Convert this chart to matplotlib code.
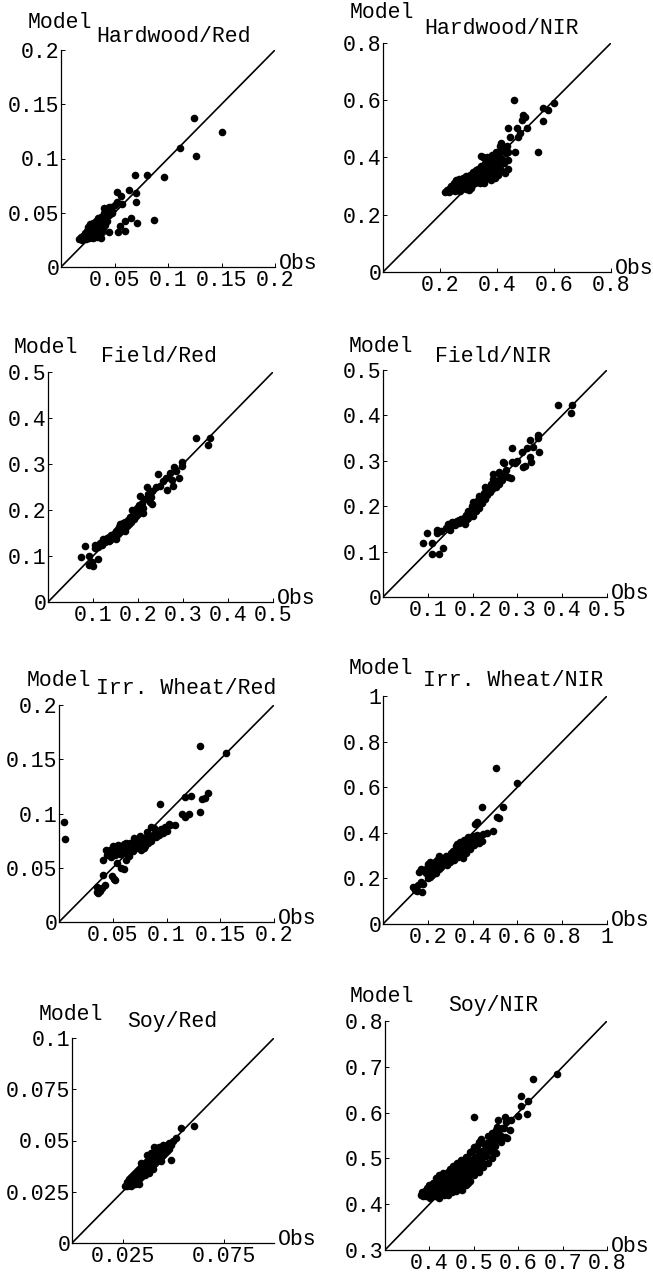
import matplotlib
matplotlib.use("Agg")
import matplotlib.pyplot as plt

# ---------------------------------------------------------------- data
# (observed, modelled) reflectance pairs for each cover type and band

hardwood_red = [
    (0.124, 0.137), (0.150, 0.124), (0.126, 0.102), (0.111, 0.110), (0.096, 0.083),
    (0.069, 0.085), (0.080, 0.085), (0.0865, 0.043), (0.071, 0.041), (0.065, 0.045),
    (0.060, 0.042), (0.060, 0.033), (0.0535, 0.032), (0.055, 0.038), (0.070, 0.060),
    (0.070, 0.068), (0.0635, 0.071), (0.052, 0.069), (0.0557, 0.065), (0.0525, 0.060),
    (0.0446, 0.0556), (0.040, 0.054), (0.043, 0.0495), (0.037, 0.046), (0.0446, 0.0326),
    (0.037, 0.0264), (0.057, 0.058), (0.048, 0.052), (0.050, 0.057), (0.046, 0.050),
    (0.017, 0.026), (0.019, 0.028), (0.020, 0.025), (0.021, 0.029), (0.022, 0.027),
    (0.022, 0.031), (0.023, 0.026), (0.024, 0.030), (0.024, 0.033), (0.025, 0.028),
    (0.025, 0.035), (0.026, 0.031), (0.026, 0.027), (0.027, 0.033), (0.027, 0.037),
    (0.028, 0.029), (0.028, 0.034), (0.029, 0.032), (0.029, 0.038), (0.030, 0.030),
    (0.030, 0.035), (0.030, 0.041), (0.031, 0.033), (0.031, 0.039), (0.032, 0.036),
    (0.032, 0.029), (0.033, 0.034), (0.033, 0.042), (0.034, 0.037), (0.034, 0.031),
    (0.035, 0.040), (0.035, 0.045), (0.036, 0.035), (0.036, 0.043), (0.037, 0.038),
    (0.038, 0.041), (0.038, 0.046), (0.039, 0.036), (0.040, 0.044), (0.040, 0.050),
    (0.041, 0.039), (0.042, 0.047), (0.043, 0.042), (0.044, 0.052), (0.045, 0.048),
    (0.047, 0.055), (0.048, 0.050), (0.034, 0.028), (0.027, 0.040), (0.025, 0.037),
    (0.030, 0.027), (0.038, 0.032),
]

hardwood_nir = [
    (0.461, 0.601), (0.601, 0.590), (0.562, 0.572), (0.580, 0.566), (0.562, 0.529),
    (0.490, 0.549), (0.498, 0.543), (0.487, 0.532), (0.545, 0.420), (0.504, 0.502),
    (0.469, 0.502), (0.437, 0.502), (0.481, 0.485), (0.473, 0.473), (0.445, 0.470),
    (0.414, 0.452), (0.463, 0.420), (0.440, 0.420), (0.410, 0.420),
    (0.218, 0.281), (0.225, 0.285), (0.232, 0.280), (0.235, 0.292), (0.240, 0.300),
    (0.242, 0.285), (0.248, 0.310), (0.250, 0.295), (0.252, 0.282), (0.255, 0.320),
    (0.258, 0.300), (0.260, 0.288), (0.262, 0.310), (0.265, 0.295), (0.268, 0.325),
    (0.270, 0.305), (0.272, 0.290), (0.275, 0.315), (0.278, 0.298), (0.280, 0.330),
    (0.282, 0.310), (0.285, 0.292), (0.288, 0.320), (0.290, 0.305), (0.292, 0.335),
    (0.295, 0.315), (0.298, 0.300), (0.300, 0.325), (0.302, 0.285), (0.305, 0.340),
    (0.308, 0.318), (0.310, 0.330), (0.312, 0.305), (0.315, 0.350), (0.318, 0.325),
    (0.320, 0.340), (0.322, 0.312), (0.325, 0.355), (0.328, 0.335), (0.330, 0.320),
    (0.332, 0.345), (0.335, 0.360), (0.338, 0.330), (0.340, 0.310), (0.342, 0.350),
    (0.345, 0.370), (0.348, 0.335), (0.350, 0.400), (0.352, 0.355), (0.355, 0.320),
    (0.358, 0.380), (0.360, 0.340), (0.362, 0.365), (0.365, 0.400), (0.368, 0.330),
    (0.370, 0.375), (0.372, 0.350), (0.375, 0.390), (0.378, 0.320), (0.380, 0.360),
    (0.382, 0.410), (0.385, 0.345), (0.388, 0.380), (0.390, 0.395), (0.392, 0.330),
    (0.395, 0.420), (0.398, 0.370), (0.400, 0.390), (0.405, 0.340), (0.408, 0.410),
    (0.410, 0.375), (0.415, 0.355), (0.418, 0.395), (0.420, 0.430), (0.425, 0.380),
    (0.428, 0.345), (0.432, 0.415), (0.435, 0.440), (0.438, 0.390), (0.440, 0.360),
    (0.345, 0.405), (0.355, 0.310), (0.290, 0.290), (0.270, 0.282), (0.255, 0.305),
    (0.310, 0.295), (0.395, 0.350), (0.412, 0.440),
]

field_red = [
    (0.329, 0.356), (0.360, 0.356), (0.356, 0.341), (0.297, 0.305), (0.297, 0.295),
    (0.280, 0.294), (0.271, 0.280), (0.245, 0.278), (0.290, 0.269), (0.275, 0.265),
    (0.278, 0.252), (0.264, 0.243), (0.249, 0.252), (0.219, 0.251), (0.231, 0.241),
    (0.227, 0.218), (0.230, 0.214), (0.204, 0.231), (0.210, 0.193), (0.240, 0.250),
    (0.255, 0.262), (0.285, 0.285), (0.262, 0.270), (0.222, 0.235), (0.215, 0.225),
    (0.228, 0.228),
    (0.073, 0.098), (0.082, 0.122), (0.090, 0.080), (0.101, 0.078), (0.112, 0.093),
    (0.090, 0.100), (0.104, 0.124), (0.104, 0.117), (0.123, 0.138), (0.138, 0.135),
    (0.097, 0.088), (0.110, 0.120), (0.115, 0.128),
    (0.130, 0.140), (0.135, 0.132), (0.140, 0.145), (0.145, 0.140), (0.148, 0.150),
    (0.150, 0.138), (0.152, 0.155), (0.155, 0.148), (0.158, 0.162), (0.160, 0.152),
    (0.162, 0.165), (0.165, 0.158), (0.168, 0.170), (0.170, 0.160), (0.172, 0.175),
    (0.175, 0.165), (0.178, 0.178), (0.180, 0.170), (0.182, 0.185), (0.185, 0.175),
    (0.188, 0.190), (0.190, 0.180), (0.192, 0.198), (0.195, 0.188), (0.198, 0.205),
    (0.200, 0.192), (0.202, 0.210), (0.205, 0.200), (0.208, 0.215), (0.212, 0.205),
    (0.186, 0.200), (0.176, 0.168), (0.166, 0.172), (0.156, 0.158), (0.146, 0.148),
    (0.136, 0.142), (0.126, 0.130), (0.120, 0.125), (0.194, 0.195), (0.160, 0.170),
    (0.170, 0.155),
]

field_nir = [
    (0.390, 0.423), (0.421, 0.423), (0.420, 0.405), (0.347, 0.357), (0.347, 0.350),
    (0.328, 0.346), (0.349, 0.320), (0.321, 0.328), (0.328, 0.309), (0.330, 0.298),
    (0.313, 0.287), (0.318, 0.288), (0.287, 0.328), (0.267, 0.298), (0.287, 0.297),
    (0.246, 0.272), (0.270, 0.295), (0.275, 0.280), (0.280, 0.265), (0.285, 0.262),
    (0.262, 0.268), (0.255, 0.255), (0.258, 0.275), (0.300, 0.300), (0.310, 0.320),
    (0.295, 0.295), (0.335, 0.330),
    (0.090, 0.118), (0.098, 0.142), (0.110, 0.120), (0.109, 0.095), (0.124, 0.095),
    (0.135, 0.109), (0.121, 0.142), (0.121, 0.148), (0.130, 0.145),
    (0.140, 0.152), (0.145, 0.160), (0.150, 0.155), (0.155, 0.165), (0.160, 0.158),
    (0.165, 0.168), (0.170, 0.162), (0.175, 0.172), (0.178, 0.165), (0.182, 0.160),
    (0.185, 0.180), (0.188, 0.172), (0.190, 0.190), (0.195, 0.185), (0.198, 0.200),
    (0.200, 0.178), (0.203, 0.195), (0.205, 0.205), (0.208, 0.190), (0.210, 0.212),
    (0.212, 0.200), (0.215, 0.195), (0.218, 0.215), (0.220, 0.208), (0.222, 0.222),
    (0.225, 0.230), (0.228, 0.215), (0.230, 0.235), (0.233, 0.225), (0.235, 0.240),
    (0.238, 0.232), (0.240, 0.250), (0.243, 0.238), (0.245, 0.260), (0.248, 0.245),
    (0.250, 0.255), (0.252, 0.242), (0.200, 0.210), (0.190, 0.175), (0.170, 0.170),
    (0.160, 0.166), (0.150, 0.148), (0.215, 0.222), (0.228, 0.242), (0.265, 0.258),
    (0.260, 0.250), (0.272, 0.268),
]

wheat_red = [
    (0.005, 0.092), (0.0056, 0.0765), (0.131, 0.162), (0.155, 0.156), (0.139, 0.119),
    (0.136, 0.114), (0.133, 0.113), (0.123, 0.116), (0.117, 0.115), (0.131, 0.101),
    (0.121, 0.100), (0.117, 0.097), (0.114, 0.100), (0.094, 0.109), (0.108, 0.089),
    (0.102, 0.090), (0.096, 0.085), (0.086, 0.088), (0.041, 0.057), (0.044, 0.066),
    (0.052, 0.069), (0.062, 0.073), (0.062, 0.057), (0.060, 0.049), (0.054, 0.054),
    (0.051, 0.040), (0.052, 0.039), (0.049, 0.042), (0.041, 0.043), (0.035, 0.0325),
    (0.038, 0.029), (0.035, 0.028), (0.043, 0.034), (0.037, 0.030), (0.040, 0.031),
    (0.036, 0.027), (0.058, 0.050),
    (0.045, 0.062), (0.047, 0.066), (0.048, 0.060), (0.050, 0.064), (0.050, 0.070),
    (0.052, 0.062), (0.053, 0.067), (0.055, 0.065), (0.055, 0.071), (0.057, 0.063),
    (0.058, 0.068), (0.060, 0.066), (0.060, 0.072), (0.062, 0.064), (0.063, 0.069),
    (0.065, 0.067), (0.066, 0.073), (0.068, 0.070), (0.069, 0.065), (0.070, 0.072),
    (0.072, 0.068), (0.073, 0.075), (0.075, 0.071), (0.076, 0.066), (0.078, 0.074),
    (0.080, 0.070), (0.081, 0.077), (0.083, 0.073), (0.085, 0.079), (0.086, 0.075),
    (0.088, 0.081), (0.090, 0.078), (0.091, 0.084), (0.093, 0.080), (0.095, 0.086),
    (0.097, 0.082), (0.099, 0.088), (0.100, 0.084), (0.103, 0.089), (0.075, 0.079),
    (0.070, 0.077), (0.082, 0.083), (0.088, 0.087), (0.065, 0.061), (0.079, 0.068),
]

wheat_nir = [
    (0.503, 0.686), (0.597, 0.617), (0.537, 0.514), (0.440, 0.514), (0.418, 0.449),
    (0.410, 0.440), (0.507, 0.470), (0.517, 0.463), (0.490, 0.409), (0.463, 0.398),
    (0.135, 0.163), (0.143, 0.149), (0.173, 0.142), (0.177, 0.175), (0.200, 0.200),
    (0.162, 0.228), (0.175, 0.235), (0.168, 0.240),
    (0.185, 0.235), (0.190, 0.225), (0.195, 0.245), (0.200, 0.230), (0.205, 0.250),
    (0.210, 0.205), (0.215, 0.240), (0.220, 0.260), (0.225, 0.235), (0.230, 0.250),
    (0.232, 0.270), (0.235, 0.225), (0.240, 0.255), (0.245, 0.275), (0.248, 0.240),
    (0.252, 0.262), (0.255, 0.280), (0.260, 0.250), (0.265, 0.270), (0.268, 0.285),
    (0.272, 0.262), (0.275, 0.290), (0.280, 0.275), (0.285, 0.260), (0.288, 0.295),
    (0.292, 0.280), (0.295, 0.300), (0.300, 0.270), (0.305, 0.310), (0.308, 0.290),
    (0.312, 0.320), (0.315, 0.280), (0.320, 0.300), (0.325, 0.340), (0.330, 0.315),
    (0.335, 0.295), (0.340, 0.330), (0.345, 0.360), (0.350, 0.320), (0.355, 0.345),
    (0.360, 0.370), (0.365, 0.340), (0.370, 0.310), (0.375, 0.355), (0.380, 0.380),
    (0.385, 0.350), (0.390, 0.330), (0.395, 0.365), (0.400, 0.385), (0.405, 0.345),
    (0.410, 0.375), (0.415, 0.360), (0.420, 0.390), (0.425, 0.370), (0.430, 0.355),
    (0.435, 0.385), (0.440, 0.365), (0.445, 0.395), (0.260, 0.290), (0.250, 0.300),
    (0.210, 0.270), (0.200, 0.265), (0.280, 0.300), (0.300, 0.295), (0.220, 0.215),
    (0.155, 0.170), (0.150, 0.145), (0.170, 0.185), (0.240, 0.280), (0.330, 0.350),
    (0.355, 0.290), (0.340, 0.300), (0.390, 0.360),
]

soy_red = [
    (0.0605, 0.0572), (0.054, 0.0562), (0.049, 0.0405), (0.0407, 0.047), (0.0515, 0.051),
    (0.050, 0.050), (0.048, 0.049),
    (0.026, 0.028), (0.027, 0.030), (0.028, 0.029), (0.028, 0.031), (0.029, 0.028),
    (0.029, 0.032), (0.030, 0.030), (0.030, 0.033), (0.031, 0.029), (0.031, 0.031),
    (0.031, 0.034), (0.032, 0.030), (0.032, 0.033), (0.032, 0.035), (0.033, 0.031),
    (0.033, 0.034), (0.033, 0.036), (0.034, 0.032), (0.034, 0.035), (0.034, 0.037),
    (0.035, 0.033), (0.035, 0.036), (0.035, 0.038), (0.036, 0.034), (0.036, 0.037),
    (0.036, 0.039), (0.037, 0.035), (0.037, 0.038), (0.037, 0.040), (0.038, 0.036),
    (0.038, 0.039), (0.038, 0.041), (0.039, 0.037), (0.039, 0.040), (0.039, 0.042),
    (0.040, 0.038), (0.040, 0.041), (0.040, 0.043), (0.041, 0.039), (0.041, 0.042),
    (0.042, 0.040), (0.042, 0.043), (0.042, 0.045), (0.043, 0.041), (0.043, 0.044),
    (0.044, 0.042), (0.044, 0.045), (0.045, 0.043), (0.045, 0.046), (0.046, 0.044),
    (0.046, 0.047), (0.047, 0.045), (0.047, 0.048), (0.048, 0.046), (0.036, 0.033),
    (0.034, 0.039), (0.039, 0.044), (0.041, 0.044), (0.038, 0.034), (0.044, 0.040),
    (0.030, 0.029), (0.027, 0.028), (0.037, 0.043), (0.043, 0.047), (0.045, 0.048),
    (0.049, 0.048), (0.040, 0.036), (0.033, 0.029), (0.029, 0.030),
]

soy_nir = [
    (0.687, 0.684), (0.633, 0.673), (0.606, 0.636), (0.623, 0.625), (0.606, 0.614),
    (0.619, 0.598), (0.501, 0.591), (0.600, 0.593), (0.583, 0.583), (0.570, 0.590),
    (0.574, 0.584), (0.555, 0.584), (0.553, 0.569), (0.581, 0.562), (0.574, 0.545),
    (0.559, 0.547),
    (0.381, 0.421), (0.384, 0.426), (0.392, 0.417), (0.389, 0.429), (0.394, 0.436),
    (0.401, 0.414), (0.398, 0.423), (0.403, 0.431), (0.399, 0.441), (0.412, 0.418),
    (0.408, 0.426), (0.413, 0.434), (0.407, 0.446), (0.414, 0.457), (0.421, 0.414),
    (0.418, 0.424), (0.423, 0.433), (0.419, 0.443), (0.424, 0.451), (0.421, 0.463),
    (0.432, 0.419), (0.428, 0.427), (0.434, 0.438), (0.429, 0.448), (0.433, 0.456),
    (0.431, 0.468), (0.441, 0.421), (0.438, 0.431), (0.443, 0.439), (0.439, 0.452),
    (0.444, 0.461), (0.442, 0.471), (0.452, 0.426), (0.448, 0.434), (0.453, 0.446),
    (0.449, 0.454), (0.451, 0.466), (0.447, 0.476), (0.454, 0.484), (0.461, 0.429),
    (0.458, 0.439), (0.463, 0.449), (0.459, 0.457), (0.462, 0.469), (0.457, 0.479),
    (0.463, 0.491), (0.471, 0.436), (0.468, 0.444), (0.473, 0.456), (0.469, 0.466),
    (0.472, 0.474), (0.467, 0.486), (0.471, 0.496), (0.482, 0.441), (0.478, 0.453),
    (0.483, 0.461), (0.479, 0.473), (0.481, 0.483), (0.477, 0.491), (0.482, 0.503),
    (0.491, 0.451), (0.488, 0.461), (0.493, 0.469), (0.489, 0.481), (0.492, 0.489),
    (0.487, 0.501), (0.491, 0.513), (0.501, 0.463), (0.498, 0.471), (0.503, 0.483),
    (0.499, 0.491), (0.502, 0.503), (0.497, 0.516), (0.501, 0.524), (0.511, 0.471),
    (0.508, 0.481), (0.513, 0.489), (0.509, 0.501), (0.512, 0.513), (0.507, 0.526),
    (0.511, 0.536), (0.521, 0.481), (0.518, 0.493), (0.523, 0.506), (0.519, 0.517),
    (0.522, 0.531), (0.517, 0.543), (0.531, 0.491), (0.528, 0.506), (0.533, 0.521),
    (0.529, 0.534), (0.532, 0.549), (0.541, 0.501), (0.538, 0.516), (0.543, 0.529),
    (0.539, 0.546), (0.542, 0.556), (0.551, 0.512), (0.548, 0.527), (0.553, 0.546),
    (0.549, 0.561), (0.561, 0.536), (0.558, 0.551), (0.563, 0.567), (0.571, 0.546),
    (0.568, 0.566), (0.573, 0.579), (0.436, 0.426), (0.446, 0.443), (0.456, 0.463),
    (0.466, 0.452), (0.476, 0.468), (0.486, 0.478), (0.496, 0.487), (0.506, 0.496),
    (0.516, 0.509), (0.526, 0.514), (0.536, 0.538), (0.546, 0.537), (0.416, 0.439),
    (0.426, 0.445), (0.396, 0.427), (0.386, 0.418), (0.474, 0.431), (0.486, 0.446),
    (0.461, 0.482), (0.452, 0.472),
]

titles = ["Hardwood/Red", "Hardwood/NIR", "Field/Red", "Field/NIR",
          "Irr. Wheat/Red", "Irr. Wheat/NIR", "Soy/Red", "Soy/NIR"]
series = [hardwood_red, hardwood_nir, field_red, field_nir,
          wheat_red, wheat_nir, soy_red, soy_nir]

# axis range (origin, end) per panel
ranges = [(0, 0.2), (0, 0.8), (0, 0.5), (0, 0.5),
          (0, 0.2), (0, 1.0), (0, 0.1), (0.3, 0.8)]

y_ticks = [
    ["0", "0.05", "0.1", "0.15", "0.2"],
    ["0", "0.2", "0.4", "0.6", "0.8"],
    ["0", "0.1", "0.2", "0.3", "0.4", "0.5"],
    ["0", "0.1", "0.2", "0.3", "0.4", "0.5"],
    ["0", "0.05", "0.1", "0.15", "0.2"],
    ["0", "0.2", "0.4", "0.6", "0.8", "1"],
    ["0", "0.025", "0.05", "0.075", "0.1"],
    ["0.3", "0.4", "0.5", "0.6", "0.7", "0.8"],
]
x_ticks = [
    ["0.05", "0.1", "0.15", "0.2"],
    ["0.2", "0.4", "0.6", "0.8"],
    ["0.1", "0.2", "0.3", "0.4", "0.5"],
    ["0.1", "0.2", "0.3", "0.4", "0.5"],
    ["0.05", "0.1", "0.15", "0.2"],
    ["0.2", "0.4", "0.6", "0.8", "1"],
    ["0.025", "0.075"],
    ["0.4", "0.5", "0.6", "0.7", "0.8"],
]

# ---------------------------------------------------------------- layout (pixels)
W, H, DPI = 653, 1272, 100
# plot box: left, top, right, bottom
boxes = [(61, 50, 275, 267), (383, 43, 611, 272),
         (48, 372, 273, 602), (383, 370, 607, 597),
         (59, 705, 274, 922), (383, 696, 607, 924),
         (72, 1038, 274, 1243), (385, 1021, 607, 1250)]
# centre of the panel heading
heading_xy = [(173, 36), (502, 28), (159, 357), (493, 357),
              (186, 689), (513, 680), (172, 1022), (493, 1006)]
# centre of the vertical axis caption
caption_xy = [(60, 23), (382, 13), (46, 347), (381, 346),
              (59, 680), (381, 669), (71, 1014), (382, 997)]

FONT = ["Liberation Mono", "DejaVu Sans Mono"]
FS = 15.5

plt.rcParams["font.family"] = FONT
fig = plt.figure(figsize=(W / DPI, H / DPI), dpi=DPI)


def fx(px):
    return px / W


def fy(py):
    return 1 - py / H


for i in range(8):
    l, t, r, b = boxes[i]
    ax = fig.add_axes([fx(l), fy(b), (r - l) / W, (b - t) / H])
    lo, hi = ranges[i]
    obs = [p[0] for p in series[i]]
    mod = [p[1] for p in series[i]]

    ax.plot([lo, hi], [lo, hi], color="black", lw=1.2, solid_capstyle="butt")
    ax.scatter(obs, mod, s=30, color="black", linewidths=0, clip_on=False, zorder=3)

    ax.set_xlim(lo, hi)
    ax.set_ylim(lo, hi)
    for side in ("top", "right"):
        ax.spines[side].set_visible(False)
    for side in ("left", "bottom"):
        ax.spines[side].set_linewidth(0.9)

    ax.set_yticks([float(s) for s in y_ticks[i]], y_ticks[i])
    ax.set_xticks([float(s) for s in x_ticks[i]], x_ticks[i])
    ax.tick_params(axis="both", direction="in", length=3, width=0.7,
                   labelsize=FS, colors="black")
    ax.tick_params(axis="y", pad=1)
    ax.tick_params(axis="x", pad=2)
    ax.patch.set_alpha(0)

    ax.annotate("Obs", xy=(1, 0), xycoords="axes fraction",
                xytext=(3, 2.5), textcoords="offset points",
                ha="left", va="center", fontsize=FS)

    hx, hy = heading_xy[i]
    fig.text(fx(hx), fy(hy), titles[i], ha="center", va="center", fontsize=FS)
    cx, cy = caption_xy[i]
    fig.text(fx(cx), fy(cy), "Model", ha="center", va="center", fontsize=FS)

fig.savefig("out.png", dpi=DPI, facecolor="white")
